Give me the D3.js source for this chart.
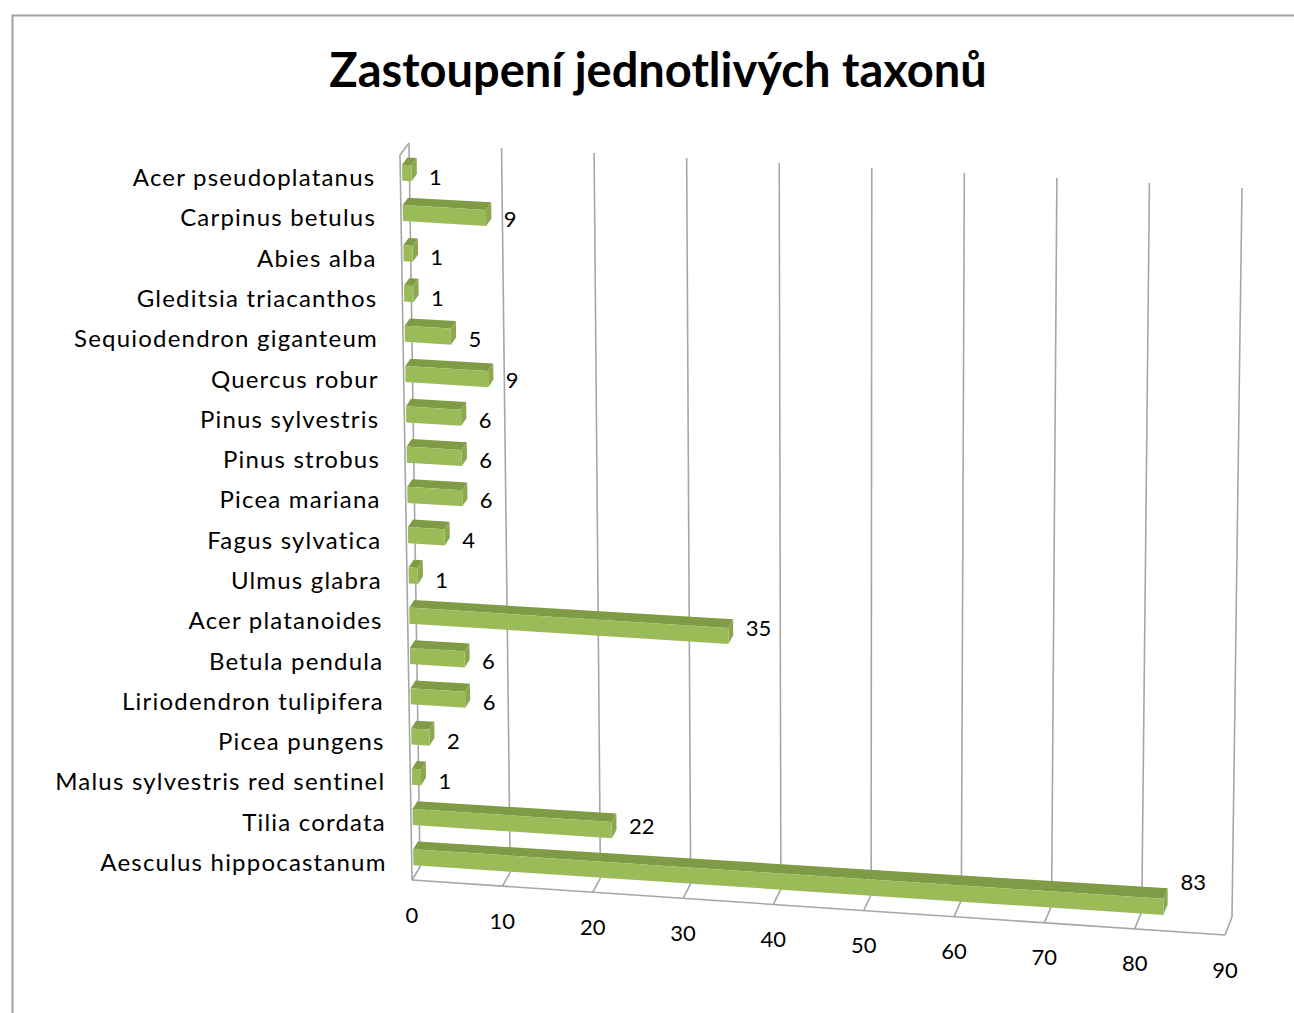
<!DOCTYPE html>
<html>
<head>
<meta charset="utf-8">
<script src="https://cdn.jsdelivr.net/npm/d3@7"></script>
<style>
  body { margin: 0; background: #fff; }
  svg { display: block; font-family: Lato, "Open Sans", sans-serif; }
</style>
</head>
<body>
<div id="chart"></div>
<script>
// data, top row first as in the picture
const categories = [
  'Acer pseudoplatanus', 'Carpinus betulus', 'Abies alba', 'Gleditsia triacanthos',
  'Sequiodendron giganteum', 'Quercus robur', 'Pinus sylvestris', 'Pinus strobus',
  'Picea mariana', 'Fagus sylvatica', 'Ulmus glabra', 'Acer platanoides',
  'Betula pendula', 'Liriodendron tulipifera', 'Picea pungens',
  'Malus sylvestris red sentinel', 'Tilia cordata', 'Aesculus hippocastanum'
];
const counts = [1, 9, 1, 1, 5, 9, 6, 6, 6, 4, 1, 35, 6, 6, 2, 1, 22, 83];
const ticks = [0, 10, 20, 30, 40, 50, 60, 70, 80, 90];
const title = 'Zastoupení jednotlivých taxonů';

const width = 1294, height = 1013;

// corners of the 3d box on screen (back wall and front plane)
const back = { bl: [420, 867], br: [1232, 917], tl: [409, 143], tr: [1242, 188] };
const front = { bl: [412, 880], br: [1225, 935], tl: [400, 155], tr: [1235, 205] };

const x = d3.scaleLinear().domain([0, 90]).range([0, 1]);
const y = d3.scaleBand().domain(categories).range([1, 0]).paddingInner(0.6).paddingOuter(0.3);

function bilin(q, u, h) {
  const bx = q.bl[0] + (q.br[0] - q.bl[0]) * u, by = q.bl[1] + (q.br[1] - q.bl[1]) * u;
  const tx = q.tl[0] + (q.tr[0] - q.tl[0]) * u, ty = q.tl[1] + (q.tr[1] - q.tl[1]) * u;
  return [bx + (tx - bx) * h, by + (ty - by) * h];
}
// u: value fraction, h: height fraction (0 = floor), z: depth (0 = front, 1 = back)
function proj(u, h, z) {
  const f = bilin(front, u, h), b = bilin(back, u, h);
  return [f[0] + (b[0] - f[0]) * z, f[1] + (b[1] - f[1]) * z];
}
const line = d3.line();

const svg = d3.select('#chart').append('svg')
  .attr('width', width).attr('height', height);

svg.append('rect')
  .attr('x', 12.5).attr('y', 15.5)
  .attr('width', 1300).attr('height', 1010)
  .attr('fill', '#fff').attr('stroke', '#a0a0a0').attr('stroke-width', 2);

svg.append('text')
  .attr('x', 658).attr('y', 87)
  .attr('text-anchor', 'middle')
  .attr('font-size', 47).attr('font-weight', 'bold')
  .attr('fill', '#000')
  .text(title);

const grid = svg.append('g').attr('stroke', '#a6a6a6').attr('fill', 'none').attr('stroke-width', 1.6);

// gridlines on back wall
ticks.forEach(t => {
  grid.append('path').attr('d', line([proj(x(t), 0, 1), proj(x(t), 1, 1)]));
  // depth ticks on floor
  grid.append('path').attr('d', line([proj(x(t), 0, 0), proj(x(t), 0, 1)]));
});
// floor front edge
grid.append('path').attr('d', line([proj(0, 0, 0), proj(1, 0, 0)]));
// left wall
grid.append('path').attr('d', line([proj(0, 0, 0), proj(0, 1, 0), proj(0, 1, 1)]));

// bars
const z0 = 0.2, z1 = 0.8;
const bars = svg.append('g');
categories.forEach((c, i) => {
  const v = x(counts[i]);
  const h0 = y(c), h1 = y(c) + y.bandwidth();
  const g = bars.append('g');
  // top face
  g.append('path')
    .attr('d', line([proj(0, h1, z0), proj(v, h1, z0), proj(v, h1, z1), proj(0, h1, z1)]) + 'Z')
    .attr('fill', '#7f9b45');
  // end face
  g.append('path')
    .attr('d', line([proj(v, h0, z0), proj(v, h1, z0), proj(v, h1, z1), proj(v, h0, z1)]) + 'Z')
    .attr('fill', '#8aa84e');
  // front face
  g.append('path')
    .attr('d', line([proj(0, h0, z0), proj(v, h0, z0), proj(v, h1, z0), proj(0, h1, z0)]) + 'Z')
    .attr('fill', '#9bbb59');
});

// value labels
const labels = svg.append('g').attr('font-size', 22).attr('fill', '#000');
categories.forEach((c, i) => {
  const hc = y(c) + y.bandwidth() / 2;
  const end = proj(x(counts[i]), hc, 0.5);
  const y0 = proj(0, hc, 0)[1], yv = proj(x(counts[i]), hc, 0)[1];
  labels.append('text')
    .attr('x', end[0] + 15).attr('y', y0 + 0.4 * (yv - y0) + 4)
    .attr('dominant-baseline', 'middle')
    .text(counts[i]);
});

// category labels
const cats = svg.append('g').attr('font-size', 24).attr('letter-spacing', 1.2)
  .attr('fill', '#000').attr('text-anchor', 'end');
categories.forEach(c => {
  const p = proj(0, y(c) + y.bandwidth() / 2, 0);
  cats.append('text')
    .attr('x', p[0] - 25).attr('y', p[1] + 5)
    .attr('dominant-baseline', 'middle')
    .text(c);
});

// value axis tick labels
const tl = svg.append('g').attr('font-size', 22).attr('fill', '#000').attr('text-anchor', 'middle');
ticks.forEach(t => {
  const p = proj(x(t), 0, 0);
  tl.append('text')
    .attr('x', p[0]).attr('y', p[1] + 37)
    .attr('dominant-baseline', 'middle')
    .text(t);
});
</script>
</body>
</html>
